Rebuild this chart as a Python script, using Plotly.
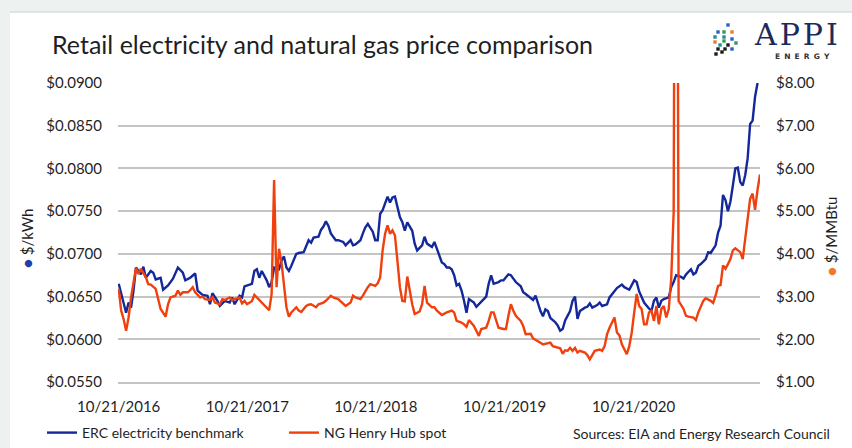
import numpy as np
import pandas as pd
import plotly.graph_objects as go

# ---------------- data (weekly observations, week index from 10/21/2016) ----------------
start_date = "2016-10-21"

erc_weeks = [0, 1, 3, 4, 5, 6, 7, 9, 10, 11, 13, 14, 15, 17, 18, 20, 22, 24, 26, 27, 29, 31, 32, 34, 36, 37, 38, 40,
             41, 43, 45, 46, 47, 49, 50, 51, 53, 54, 55, 56, 57, 58, 60, 61, 62, 63, 65, 66, 67, 68, 69, 70, 72, 73,
             75, 76, 77, 78, 79, 81, 82, 83, 84, 85, 86, 88, 89, 91, 92, 94, 95, 96, 98, 99, 100, 101, 103, 104, 105,
             106, 107, 108, 109, 110, 111, 112, 113, 114, 115, 116, 117, 119, 120, 121, 123, 124, 125, 127, 128, 129,
             130, 131, 132, 133, 134, 135, 136, 137, 138, 139, 140, 141, 142, 144, 145, 146, 148, 149, 150, 151, 152,
             154, 155, 156, 158, 159, 160, 161, 163, 164, 165, 167, 168, 169, 170, 171, 172, 173, 174, 175, 177, 178,
             179, 180, 181, 183, 184, 185, 186, 187, 189, 190, 191, 192, 194, 195, 196, 198, 199, 200, 201, 202, 204,
             205, 207, 208, 209, 210, 211, 213, 214, 215, 216, 217, 218, 219, 220, 221, 223, 224, 225, 226, 228, 229,
             230, 232, 233, 234, 235, 236, 238, 239, 240, 242, 243, 244, 245, 246, 247, 248, 249, 250, 251, 252, 253,
             254, 255, 256, 257, 258, 259]
erc_price = [0.0665, 0.0653, 0.0631, 0.0643, 0.0637, 0.0657, 0.0684, 0.0676, 0.0685, 0.0672, 0.0680, 0.0678, 0.0670,
             0.0672, 0.0658, 0.0663, 0.0671, 0.0684, 0.0678, 0.0669, 0.0672, 0.0677, 0.0657, 0.0652, 0.0651, 0.0641,
             0.0654, 0.0645, 0.0639, 0.0645, 0.0643, 0.0649, 0.0641, 0.0651, 0.0649, 0.0662, 0.0664, 0.0665, 0.0680,
             0.0682, 0.0672, 0.0680, 0.0669, 0.0661, 0.0667, 0.0684, 0.0682, 0.0692, 0.0697, 0.0684, 0.0680, 0.0686,
             0.0700, 0.0701, 0.0702, 0.0708, 0.0716, 0.0713, 0.0719, 0.0720, 0.0728, 0.0732, 0.0738, 0.0733, 0.0724,
             0.0716, 0.0716, 0.0714, 0.0710, 0.0716, 0.0710, 0.0711, 0.0716, 0.0724, 0.0731, 0.0735, 0.0726, 0.0716,
             0.0716, 0.0747, 0.0751, 0.0759, 0.0767, 0.0760, 0.0766, 0.0767, 0.0753, 0.0743, 0.0737, 0.0727, 0.0737,
             0.0727, 0.0712, 0.0704, 0.0710, 0.0720, 0.0712, 0.0708, 0.0714, 0.0706, 0.0696, 0.0690, 0.0688, 0.0684,
             0.0684, 0.0682, 0.0675, 0.0663, 0.0665, 0.0657, 0.0645, 0.0631, 0.0647, 0.0643, 0.0638, 0.0641, 0.0647,
             0.0650, 0.0665, 0.0675, 0.0665, 0.0667, 0.0669, 0.0669, 0.0676, 0.0675, 0.0671, 0.0667, 0.0662, 0.0655,
             0.0653, 0.0649, 0.0646, 0.0651, 0.0641, 0.0633, 0.0627, 0.0635, 0.0633, 0.0625, 0.0620, 0.0616, 0.0610,
             0.0612, 0.0622, 0.0633, 0.0645, 0.0650, 0.0624, 0.0633, 0.0637, 0.0638, 0.0642, 0.0637, 0.0640, 0.0643,
             0.0639, 0.0641, 0.0649, 0.0653, 0.0657, 0.0660, 0.0664, 0.0661, 0.0658, 0.0663, 0.0669, 0.0667, 0.0656,
             0.0643, 0.0639, 0.0636, 0.0633, 0.0645, 0.0649, 0.0637, 0.0645, 0.0647, 0.0649, 0.0661, 0.0667, 0.0675,
             0.0673, 0.0671, 0.0676, 0.0682, 0.0676, 0.0678, 0.0686, 0.0688, 0.0694, 0.0702, 0.0701, 0.0710, 0.0725,
             0.0733, 0.0769, 0.0763, 0.0750, 0.0761, 0.0780, 0.0800, 0.0801, 0.0784, 0.0780, 0.0792, 0.0812, 0.0852,
             0.0856, 0.0884, 0.0900]

ng_weeks = [0, 1, 2, 3, 4, 5, 7, 8, 9, 11, 12, 13, 15, 16, 17, 19, 20, 21, 23, 24, 25, 26, 28, 29, 30, 31, 33, 34, 35,
            37, 38, 39, 41, 42, 43, 45, 46, 47, 49, 50, 51, 52, 54, 55, 56, 58, 59, 61, 62, 63, 64, 65, 66, 67, 68, 69,
            70, 72, 73, 74, 76, 77, 78, 80, 81, 83, 84, 86, 87, 89, 91, 92, 94, 95, 96, 98, 99, 100, 101, 102, 104, 105,
            106, 107, 108, 109, 110, 111, 112, 113, 114, 115, 116, 117, 118, 119, 120, 122, 123, 124, 125, 127, 128,
            129, 131, 132, 133, 135, 136, 137, 139, 140, 141, 142, 144, 145, 146, 147, 149, 150, 151, 152, 153, 154,
            156, 157, 158, 159, 160, 161, 163, 164, 165, 167, 168, 170, 171, 172, 174, 175, 176, 178, 179, 180, 181,
            182, 183, 184, 185, 186, 187, 189, 190, 191, 192, 193, 195, 196, 197, 198, 199, 201, 202, 203, 204, 206,
            207, 208, 209, 210, 211, 212, 213, 214, 215, 216, 217, 218, 219, 220, 221, 222, 223, 224, 225, 226, 227,
            228, 229, 230, 231, 233, 234, 235, 236, 237, 238, 240, 241, 242, 243, 244, 245, 246, 247, 248, 249, 250,
            252, 253, 254, 255, 256, 257, 258, 259, 260]
ng_price = [3.18, 2.67, 2.47, 2.20, 2.51, 2.98, 3.67, 3.53, 3.65, 3.45, 3.29, 3.28, 3.18, 2.94, 2.71, 2.53, 2.82, 2.98,
            3.02, 3.14, 3.04, 3.10, 3.10, 3.15, 3.22, 3.10, 2.98, 3.00, 2.94, 2.92, 2.98, 2.86, 2.82, 2.94, 2.92, 2.98,
            2.92, 2.94, 2.98, 2.84, 2.90, 2.82, 2.89, 3.04, 2.98, 2.86, 2.78, 2.68, 3.06, 5.73, 3.22, 4.12, 3.80, 3.20,
            2.75, 2.53, 2.63, 2.75, 2.67, 2.64, 2.78, 2.81, 2.82, 2.75, 2.82, 2.86, 2.90, 3.02, 2.98, 2.94, 2.82, 2.78,
            2.86, 3.02, 2.98, 2.94, 3.02, 3.14, 3.22, 3.29, 3.25, 3.31, 3.45, 4.08, 4.47, 4.67, 4.47, 4.55, 4.43, 3.84,
            3.22, 2.90, 2.89, 3.47, 3.14, 2.82, 2.59, 2.65, 2.82, 3.25, 2.86, 2.75, 2.75, 2.67, 2.57, 2.60, 2.63, 2.67,
            2.63, 2.43, 2.39, 2.35, 2.29, 2.45, 2.31, 2.20, 2.08, 2.24, 2.27, 2.43, 2.63, 2.63, 2.43, 2.27, 2.24, 2.24,
            2.55, 2.82, 2.67, 2.55, 2.43, 2.31, 2.12, 2.13, 2.02, 1.96, 1.92, 1.88, 1.90, 1.92, 1.84, 1.80, 1.79, 1.66,
            1.74, 1.73, 1.80, 1.73, 1.80, 1.69, 1.73, 1.69, 1.63, 1.53, 1.63, 1.73, 1.76, 1.73, 1.84, 2.12, 2.27, 2.51,
            2.16, 2.09, 1.88, 1.65, 1.84, 2.16, 2.63, 3.06, 2.78, 2.71, 2.35, 2.35, 2.63, 2.67, 2.43, 2.78, 2.35, 2.71,
            2.78, 2.51, 2.71, 3.41, 4.98, 23.86, 2.90, 2.80, 2.71, 2.55, 2.53, 2.51, 2.45, 2.63, 2.78, 2.90, 2.96, 2.90,
            2.85, 3.02, 3.25, 3.27, 3.73, 3.65, 3.76, 3.88, 4.08, 4.13, 4.04, 3.88, 4.35, 4.82, 5.29, 5.41, 5.03, 5.50,
            5.86]

x_tick_dates = ["2016-10-21", "2017-10-21", "2018-10-21", "2019-10-21", "2020-10-21"]
x_tick_labels = ["10/21/2016", "10/21/2017", "10/21/2018", "10/21/2019", "10/21/2020"]

series_names = ["ERC electricity benchmark", "NG Henry Hub spot"]
title_text = "Retail electricity and natural gas price comparison"
source_text = "Sources: EIA and Energy Research Council"

# ---------------- build ----------------
t0 = pd.Timestamp(start_date)
erc_dates = t0 + pd.to_timedelta(np.array(erc_weeks) * 7, unit="D")
ng_dates = t0 + pd.to_timedelta(np.array(ng_weeks) * 7, unit="D")

W, H = 852, 448
ML, MR, MT, MB = 118, 92, 83, 66
PW, PH = W - ML - MR, H - MT - MB


def px(xp):
    return (xp - ML) / PW


def py(yp):
    return (H - MB - yp) / PH


BLUE = "#13289a"
ORANGE = "#f0400e"
FONT = "Lato"
TXT = "#1f1f1f"

fig = go.Figure()
fig.add_trace(go.Scatter(x=erc_dates, y=erc_price, name=series_names[0], mode="lines",
                         line=dict(color=BLUE, width=2.4), yaxis="y"))
fig.add_trace(go.Scatter(x=ng_dates, y=ng_price, name=series_names[1], mode="lines",
                         line=dict(color=ORANGE, width=2.4), yaxis="y2"))

shapes = [
    dict(type="rect", xref="paper", yref="paper", x0=px(10), x1=px(W + 5), y0=py(H + 5), y1=py(12),
         fillcolor="white", line=dict(width=0), layer="below"),
    dict(type="line", xref="paper", yref="paper", x0=px(10), x1=px(W + 5), y0=py(12), y1=py(12),
         line=dict(color="#d9dfdc", width=1.5), layer="below"),
]

# logo dots (decorative)
logo_dots = [(728, 25, "#2a62c4"), (718, 32, "#2a62c4"), (724, 32, "#2e9a5c"), (732, 32, "#f07a2a"),
             (715, 37, "#1f8f8f"), (724, 37, "#1f8f8f"), (715, 42, "#f07a2a"), (724, 41, "#2e9a5c"),
             (732, 39, "#2a62c4"), (720, 45, "#1f8f8f"), (728, 45, "#1a1a1a"), (736, 43, "#2e9a5c"),
             (718, 49, "#1a1a1a"), (725, 49, "#1a1a1a"), (732, 49, "#2a62c4"), (716, 54, "#1a1a1a"),
             (722, 52, "#1a1a1a")]
for (cx, cy, col) in logo_dots:
    shapes.append(dict(type="rect", xref="paper", yref="paper", x0=px(cx - 1.7), x1=px(cx + 1.7),
                       y0=py(cy + 1.7), y1=py(cy - 1.7), fillcolor=col, line=dict(width=0)))

annotations = [
    dict(text='<span style="color:#1f3fae">●</span> $/kWh', textangle=-90, xref="paper", yref="paper",
         x=px(27), y=py(239), xanchor="center", yanchor="middle", showarrow=False,
         font=dict(family=FONT, size=15, color=TXT)),
    dict(text='<span style="color:#f07a2a">●</span> $/MMBtu', textangle=-90, xref="paper", yref="paper",
         x=px(831), y=py(237), xanchor="center", yanchor="middle", showarrow=False,
         font=dict(family=FONT, size=15, color=TXT)),
    dict(text=source_text, xref="paper", yref="paper", x=px(571), y=py(433), xanchor="left",
         yanchor="middle", showarrow=False, font=dict(family=FONT, size=14, color=TXT)),
    dict(text="A\u200aP\u200aP\u200aI", xref="paper", yref="paper", x=px(752), y=py(34), xanchor="left",
         yanchor="middle", showarrow=False, font=dict(family="DejaVu Serif", size=30, color="#1b2a5c")),
    dict(text="<b>E\u00a0\u2009N\u00a0\u2009E\u00a0\u2009R\u00a0\u2009G\u00a0\u2009Y</b>", xref="paper", yref="paper",
         x=px(773), y=py(56), xanchor="left", yanchor="middle", showarrow=False,
         font=dict(family="DejaVu Sans", size=7.5, color="#333333")),
]

grid = "#c4c4c4"
fig.update_layout(
    width=W, height=H,
    margin=dict(l=ML, r=MR, t=MT, b=MB, pad=0, autoexpand=False),
    paper_bgcolor="#edf2f0",
    plot_bgcolor="rgba(0,0,0,0)",
    title=dict(text=title_text, xref="container", yref="container", x=52 / W, xanchor="left",
               y=1 - 45 / H, yanchor="middle", font=dict(family=FONT, size=25, color=TXT)),
    xaxis=dict(type="date", range=["2016-10-19", "2021-10-15"], tickvals=x_tick_dates, ticktext=x_tick_labels,
               showgrid=False, zeroline=False, showline=True, linecolor=grid, linewidth=1.5, ticks="",
               ticklabelstandoff=10, automargin=False, tickfont=dict(family=FONT, size=15, color=TXT)),
    yaxis=dict(range=[0.055, 0.090], tick0=0.055, dtick=0.005, tickformat=".4f", tickprefix="$",
               showgrid=True, gridcolor=grid, gridwidth=1.5, zeroline=False, showline=False, ticks="",
               ticklabelstandoff=15, automargin=False, tickfont=dict(family=FONT, size=15, color=TXT)),
    yaxis2=dict(range=[1, 8], tick0=1, dtick=1, tickformat=".2f", tickprefix="$", overlaying="y", side="right",
                showgrid=False, zeroline=False, showline=False, ticks="", ticklabelstandoff=15,
                automargin=False, tickfont=dict(family=FONT, size=15, color=TXT)),
    legend=dict(orientation="h", x=px(42), y=py(433), xanchor="left", yanchor="middle",
                bgcolor="rgba(0,0,0,0)", font=dict(family=FONT, size=14, color=TXT),
                entrywidth=197, entrywidthmode="pixels", itemwidth=30),
    showlegend=True,
    shapes=shapes,
    annotations=annotations,
)

fig.write_html("out.html", config={"displayModeBar": False},
               post_script="document.body.style.margin='0px';document.body.style.padding='0px';"
                           "document.body.style.overflow='hidden';")
